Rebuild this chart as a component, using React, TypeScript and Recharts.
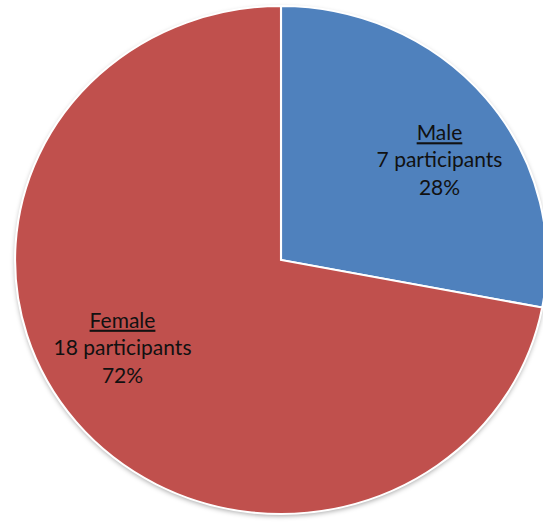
import React from 'react';
import { PieChart, Pie, Cell, Sector } from 'recharts';

const categories = ['Male', 'Female'];
const participants = [7, 18];
const percentLabels = ['28%', '72%'];
const colors = ['#4F81BD', '#C0504D'];

const data = categories.map((name, i) => ({ name, value: participants[i], pct: percentLabels[i] }));

const CX = 281;
const CY = 260;
const R = 254;
const SX = 1.047;
const RAD = Math.PI / 180;

const EllipseSector = (props: any) => {
  const { cx, cy } = props;
  return (
    <g transform={`translate(${cx},${cy}) scale(${SX},1) translate(${-cx},${-cy})`}>
      <Sector {...props} stroke="#ffffff" strokeWidth={2} />
    </g>
  );
};

const renderLabel = (props: any) => {
  const { cx, cy, midAngle, outerRadius, payload, index } = props;
  const r = outerRadius * 0.725;
  const a = (midAngle - 9) * RAD;
  const x = cx + r * Math.cos(a);
  const y = cy - r * Math.sin(a);
  const p = payload && payload.payload ? payload.payload : payload;
  return (
    <text
      x={x}
      y={y}
      textAnchor="middle"
      fill="#111"
      fontFamily="Lato, 'Liberation Sans', sans-serif"
      fontSize={21}
      key={`l-${index}`}
    >
      <tspan x={x} dy={-26} textDecoration="underline">{p.name}</tspan>
      <tspan x={x} dy={27}>{`${p.value} participants`}</tspan>
      <tspan x={x} dy={28}>{p.pct}</tspan>
    </text>
  );
};

export default function App() {
  return (
    <div style={{ position: 'absolute', left: 0, top: 0, width: 543, height: 525, background: '#fff' }}>
      <PieChart width={543} height={525} margin={{ top: 0, right: 0, bottom: 0, left: 0 }}>
        <defs>
          <filter id="pshadow" x="-10%" y="-10%" width="120%" height="120%">
            <feDropShadow dx="0" dy="2" stdDeviation="2.5" floodColor="#000" floodOpacity="0.35" />
          </filter>
        </defs>
        <g filter="url(#pshadow)">
          <ellipse cx={CX} cy={CY} rx={R * SX} ry={R} fill="#fff" />
        </g>
        <Pie
          data={data}
          dataKey="value"
          nameKey="name"
          cx={CX}
          cy={CY}
          outerRadius={R}
          startAngle={90}
          endAngle={-270}
          isAnimationActive={false}
          shape={EllipseSector}
          label={renderLabel}
          labelLine={false}
          stroke="#fff"
        >
          {data.map((d, i) => (
            <Cell key={d.name} fill={colors[i]} />
          ))}
        </Pie>
      </PieChart>
    </div>
  );
}
